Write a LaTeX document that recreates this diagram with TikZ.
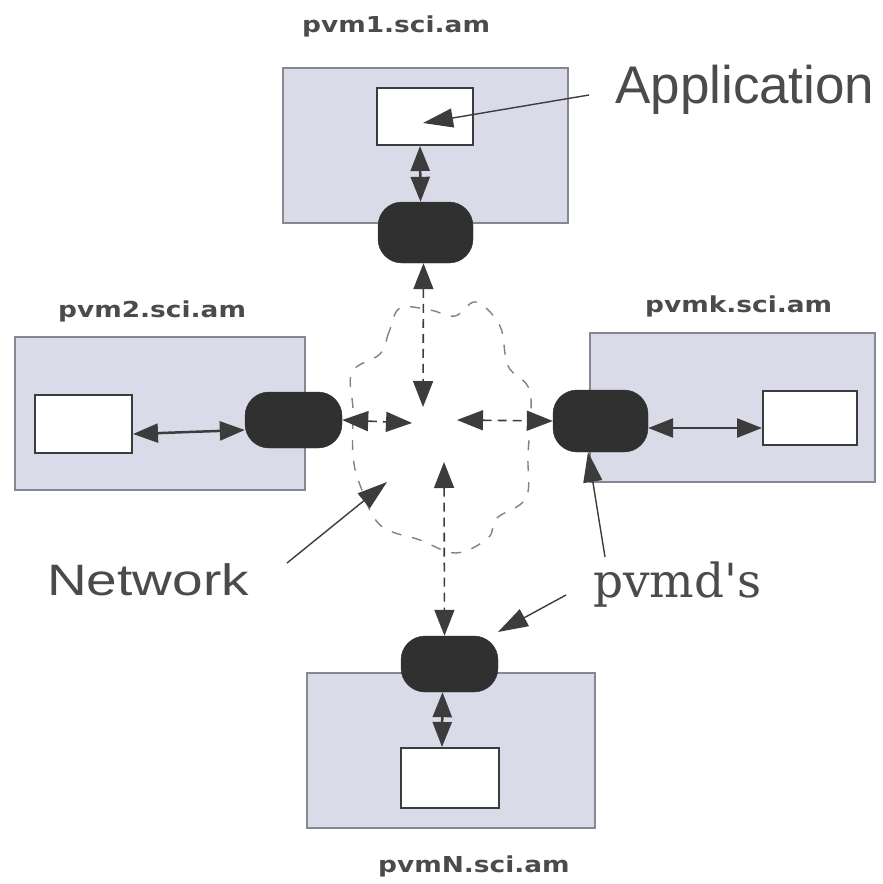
\documentclass[tikz,border=0pt]{standalone}
\usepackage{fontspec}
\usepackage{graphicx}
\setmainfont{Liberation Sans}
\newfontfamily\hostfont{DejaVu Sans}
\newfontfamily\serfont{DejaVu Serif}
\usetikzlibrary{arrows.meta}
\definecolor{hostfill}{RGB}{218,219,232}
\definecolor{hostedge}{RGB}{135,135,148}
\definecolor{pvmdfill}{RGB}{48,48,48}
\definecolor{arrcol}{RGB}{60,60,60}
\definecolor{txtcol}{RGB}{75,75,75}
\definecolor{cloudcol}{RGB}{130,130,130}
\tikzset{
  host/.style={draw=hostedge, line width=1.5pt, fill=hostfill, inner sep=0pt},
  appbox/.style={draw=arrcol, line width=2pt, fill=white, inner sep=0pt},
  pvmd/.style={fill=pvmdfill, draw=pvmdfill, rounded corners=24pt, inner sep=0pt},
  solidarr/.style={draw=arrcol, line width=2.5pt, >={Triangle[length=25pt,width=19pt]}, <->},
  dasharr/.style={draw=arrcol, line width=1.6pt, dash pattern=on 9pt off 6pt, >={Triangle[length=26pt,width=20pt]}, <->},
  ptr/.style={draw=arrcol, line width=1.4pt, >={Triangle[length=30pt,width=19pt]}, ->},
  hostlabel/.style={anchor=base west, inner sep=0pt, text=txtcol, font=\hostfont\bfseries\fontsize{22}{26}\selectfont},
  biglabel/.style={anchor=base west, inner sep=0pt, text=txtcol},
  cloudline/.style={draw=cloudcol, line width=1.4pt, dash pattern=on 10pt off 11pt}
}
\begin{document}
\begin{tikzpicture}[x=1pt,y=-1pt]
\useasboundingbox (0,0) rectangle (883,884);
\fill[white] (0,0) rectangle (883,884);

% network cloud
\draw[cloudline] plot[smooth cycle, tension=0.6] coordinates {
  (400,308) (389,332) (380,354) (352,372) (353,410) (353,455) (360,485)
  (380,525) (420,540) (456,553) (488,538) (497,518) (526,498) (528,455)
  (530,392) (508,366) (500,326) (476,302) (455,316) (430,310)};

% host boxes
\node[host, minimum width=285pt, minimum height=155pt] (h1) at (425.5,145.5) {};
\node[host, minimum width=290pt, minimum height=153pt] (h2) at (160,413.5) {};
\node[host, minimum width=285pt, minimum height=149pt] (hk) at (732.5,407.5) {};
\node[host, minimum width=288pt, minimum height=155pt] (hN) at (451,750.5) {};

% application boxes
\node[appbox, minimum width=96pt, minimum height=57pt] (a1) at (425,116.5) {};
\node[appbox, minimum width=97pt, minimum height=58pt] (a2) at (83.5,424) {};
\node[appbox, minimum width=94pt, minimum height=54pt] (ak) at (810,418) {};
\node[appbox, minimum width=98pt, minimum height=60pt] (aN) at (450,778) {};

% free ends of dashed connectors
\coordinate (c1) at (423,407);
\coordinate (c2) at (412,423);
\coordinate (c3) at (457,420);
\coordinate (c4) at (444,462);

% pvmd daemons
\node[pvmd, minimum width=95pt, minimum height=61pt] (d1) at (425.5,232.5) {};
\node[pvmd, minimum width=97pt, minimum height=56pt] (d2) at (293.5,420) {};
\node[pvmd, minimum width=95pt, minimum height=62pt] (dk) at (600.5,421) {};
\node[pvmd, minimum width=97pt, minimum height=56pt] (dN) at (449.5,664) {};

% solid double arrows (application <-> pvmd)
\draw[solidarr] ([xshift=-5pt]a1.south) -- ([xshift=-5pt]d1.north);
\draw[solidarr] ([yshift=-10pt]a2.east) -- ([yshift=-10pt]d2.west);
\draw[solidarr] ([yshift=-10pt]ak.west) -- ([yshift=-7pt]dk.east);
\draw[solidarr] ([xshift=-8pt]aN.north) -- ([xshift=-7pt]dN.south);

% dashed network arrows
\draw[dasharr] ([xshift=-2pt]d1.south) -- (c1);
\draw[dasharr] (d2.east) -- (c2);
\draw[dasharr] (c3) -- (dk.west);
\draw[dasharr] (c4) -- ([xshift=-5pt]dN.north);

% host labels
\node[hostlabel] (l1) at (302,32) {\scalebox{1.2}[1]{pvm1.sci.am}};
\node[hostlabel] (l2) at (58,317) {\scalebox{1.2}[1]{pvm2.sci.am}};
\node[hostlabel] (lk) at (645,312) {\scalebox{1.2}[1]{pvmk.sci.am}};
\node[hostlabel] (lN) at (378,872) {\scalebox{1.2}[1]{pvmN.sci.am}};

% big labels
\node[biglabel, font=\fontsize{53}{60}\selectfont] (tapp) at (615,103) {Application};
\node[biglabel, font=\fontsize{44}{50}\selectfont] (tnet) at (47,595) {\scalebox{1.25}[1]{Network}};
\node[biglabel, font=\serfont\fontsize{47}{54}\selectfont] (tpvmd) at (593,597) {pvmd's};

% pointer arrows
\coordinate (pa0) at (589,95);  \coordinate (pa1) at (423,123);
\coordinate (pn0) at (287,563); \coordinate (pn1) at (387,482);
\coordinate (pd0) at (605,557); \coordinate (pd1) at (588,452);
\coordinate (pe0) at (566,595); \coordinate (pe1) at (498,632);
\draw[ptr] (pa0) -- (pa1);
\draw[ptr] (pn0) -- (pn1);
\draw[ptr] (pd0) -- (pd1);
\draw[ptr] (pe0) -- (pe1);
\end{tikzpicture}
\end{document}
